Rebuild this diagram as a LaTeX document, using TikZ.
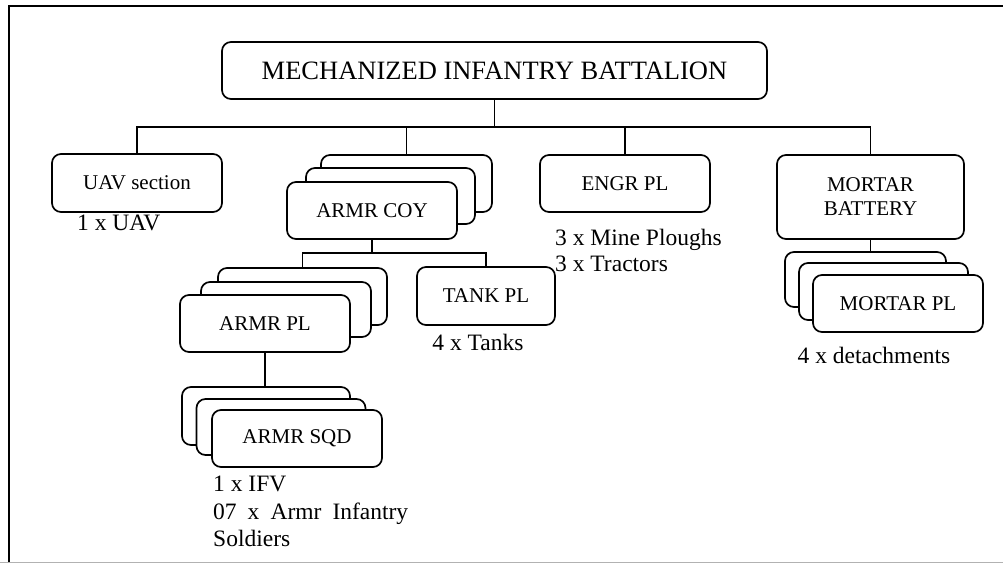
\documentclass[tikz,border=0pt]{standalone}
\usepackage{fontspec}
\setmainfont{Liberation Serif}
\begin{document}
\begin{tikzpicture}[x=1pt,y=-1pt,
  box/.style={draw,fill=white,rounded corners=9pt,line width=1.7pt,align=center,inner sep=0pt,
    font=\fontsize{21}{24}\selectfont},
  wh/.style 2 args={minimum width=#1pt,minimum height=#2pt},
  note/.style={align=left,inner sep=0pt,font=\fontsize{23.5}{27}\selectfont},
  wire/.style={line width=1.7pt}]
\useasboundingbox (0,0) rectangle (1003,563);

% frame
\draw[line width=1.5pt] (9,562) -- (9,6) -- (1003,6);
\draw[black!30,line width=1pt] (0,562) -- (1003,562);

% top level
\node[box,wh={545}{57},font=\fontsize{26.5}{30}\selectfont] (btn) at (494.5,70.5) {MECHANIZED INFANTRY BATTALION};

\node[box,wh={170}{58}] (uav) at (137,183) {UAV section};
\node[note,anchor=west] (uavtxt) at (77,223) {1 x UAV};

% armr coy stack
\node[box,wh={171}{57}] (coyC) at (406.5,183.5) {};
\node[box,wh={169}{56}] (coyB) at (390.5,196) {};
\node[box,wh={170}{57}] (coyA) at (372,210.5) {ARMR COY};

\node[box,wh={170}{57}] (engr) at (625,183.5) {ENGR PL};
\node[note,anchor=west,font=\fontsize{23.5}{26}\selectfont] (engrtxt) at (555,250) {3 x Mine Ploughs\\3 x Tractors};

\node[box,wh={187}{84}] (mor) at (870.5,197) {MORTAR\\BATTERY};

% armr pl stack
\node[box,wh={169}{57}] (plC) at (302.5,296.5) {};
\node[box,wh={170}{55}] (plB) at (286,309.5) {};
\node[box,wh={170}{57}] (plA) at (265,323.5) {ARMR PL};

\node[box,wh={138}{58}] (tank) at (486,296) {TANK PL};
\node[note] (tanktxt) at (478,342) {4 x Tanks};

% armr sqd stack
\node[box,wh={168}{58}] (sqdC) at (266,416) {};
\node[box,wh={169}{56}] (sqdB) at (281,427) {};
\node[box,wh={170}{57}] (sqdA) at (297,438.5) {ARMR SQD};
\node[note,anchor=west,font=\fontsize{23.5}{27.5}\selectfont] (sqdtxt) at (213,511.5)
  {1 x IFV\\\makebox[195pt][s]{07 x Armr Infantry}\\Soldiers};

% mortar pl stack
\node[box,wh={161}{55}] (mplC) at (865.5,279.5) {};
\node[box,wh={169}{57}] (mplB) at (883.5,291.5) {};
\node[box,wh={170}{57}] (mplA) at (898,303.5) {MORTAR PL};
\node[note] (mpltxt) at (874,355) {4 x detachments};

% connectors
\coordinate (bus) at (494.5,127);
\draw[wire] (btn.south) -- (bus);
\draw[wire] (uav.north) |- (bus) -| (mor.north);
\draw[wire] (coyC.north) -- (coyC.north |- bus);
\draw[wire] (engr.north) -- (engr.north |- bus);

\coordinate (sub) at (372,253);
\draw[wire] (coyA.south) -- (sub);
\draw[wire] (plC.north) |- (sub) -| (tank.north);

\draw[wire] (plA.south) -- (plA.south |- sqdC.north);
\draw[wire] (mor.south) -- (mor.south |- mplC.north);
\end{tikzpicture}
\end{document}
